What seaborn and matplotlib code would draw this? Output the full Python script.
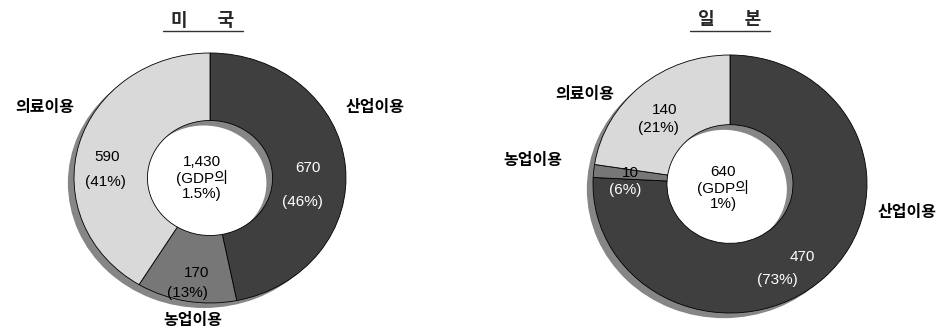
import matplotlib
matplotlib.use("Agg")
import matplotlib.pyplot as plt
import seaborn as sns

sns.set_style("white")
plt.rcParams["font.family"] = ["Liberation Sans", "Noto Sans CJK KR"]

# -----------------------------------
# Data
# -----------------------------------
categories = ["산업이용", "농업이용", "의료이용"]
us_values = [670, 170, 590]
us_pct = [46, 13, 41]
us_total = "1,430\n(GDP의\n1.5%)"
jp_values = [470, 10, 140]
jp_pct = [73, 6, 21]
jp_total = "640\n(GDP의\n1%)"

colors = ["#3f3f3f", "#777777", "#d9d9d9"]
shadow = "#868686"

W, H = 944, 329
fig = plt.figure(figsize=(W / 100, H / 100), dpi=100)


def px(x, y):
    return x / W, 1 - y / H


def donut(cx, cy, rx, ry, values):
    # axes sized so that one data unit = rx px across, ry px down
    lim = 1.1
    ax = fig.add_axes([(cx - lim * rx) / W, (H - cy - lim * ry) / H,
                       2 * lim * rx / W, 2 * lim * ry / H])
    ring = dict(width=0.54, edgecolor="black", linewidth=0.6)
    ax.pie([1], colors=[shadow], radius=1, center=(-0.045, -0.04),
           wedgeprops=dict(width=0.54, linewidth=0))
    ax.pie(values, colors=colors, startangle=90, counterclock=False,
           radius=1, wedgeprops=ring)
    ax.set_xlim(-lim, lim)
    ax.set_ylim(-lim, lim)
    ax.set_aspect("auto")
    ax.axis("off")
    return ax


donut(210, 178, 136, 125, us_values)
donut(730, 184, 137, 129, jp_values)


def title(cx, text, x0, x1):
    fig.text(*px(cx, 21), text, ha="center", va="center", fontsize=13,
             fontweight="black")
    fig.add_artist(plt.Line2D([x0 / W, x1 / W], [1 - 31 / H, 1 - 31 / H],
                              color="#333333", lw=1.0))


def label(x, y, s, color="black", bold=False, size=11, **kw):
    fig.text(*px(x, y), s, ha="center", va="center", fontsize=size,
             color=color, fontweight="black" if bold else "normal", **kw)


# 미국
title(203, "미      국", 163, 243)
label(375, 107, categories[0], bold=True, size=11.5)
label(193, 320, categories[1], bold=True, size=11.5)
label(45, 107, categories[2], bold=True, size=11.5)
label(308, 168, f"{us_values[0]}", color="white")
label(302, 202, f"({us_pct[0]}%)", color="white")
label(197, 273, f"{us_values[1]}")
label(187, 293, f"({us_pct[1]}%)")
label(107, 157, f"{us_values[2]}")
label(105, 182, f"({us_pct[2]}%)")
label(202, 178, us_total, linespacing=1.1)

# 일본
title(730, "일      본", 690, 770)
label(907, 213, categories[0], bold=True, size=11.5)
label(533, 160, categories[1], bold=True, size=11.5)
label(585, 95, categories[2], bold=True, size=11.5)
label(802, 257, f"{jp_values[0]}", color="white")
label(777, 280, f"({jp_pct[0]}%)", color="white")
label(630, 173, f"{jp_values[1]}")
label(625, 190, f"({jp_pct[1]}%)", color="white")
label(665, 110, f"{jp_values[2]}")
label(658, 128, f"({jp_pct[2]}%)")
label(723, 188, jp_total, linespacing=1.1)

fig.savefig("out.png", dpi=100)
